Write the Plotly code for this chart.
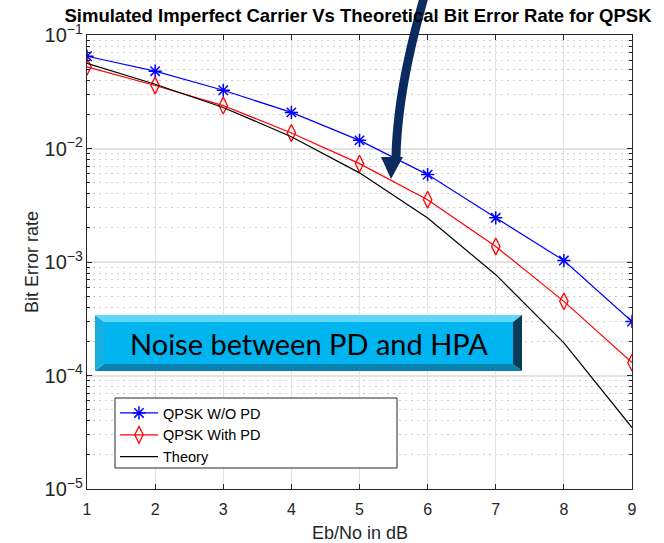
import plotly.graph_objects as go

# Eb/No sweep (dB) and measured / theoretical bit error rates
ebno_db = [1, 2, 3, 4, 5, 6, 7, 8, 9]
ber_without_pd = [0.0650, 0.0480, 0.0326, 0.0208, 0.0118, 0.00589, 0.00245, 0.00103, 0.000299]
ber_with_pd = [0.0525, 0.0359, 0.0239, 0.0137, 0.00736, 0.00354, 0.00137, 0.000450, 0.000130]
ber_theory = [0.0563, 0.0368, 0.0230, 0.0127, 0.00610, 0.00244, 0.000773, 0.000194, 0.0000348]

series_names = ["QPSK W/O PD", "QPSK With PD", "Theory"]
title_text = "Simulated Imperfect Carrier Vs Theoretical Bit Error Rate for QPSK"
x_title = "Eb/No in dB"
y_title = "Bit Error rate"
box_text = "Noise between PD and HPA"

W, H = 664, 543
L, R, T, B = 87, 632, 35, 489


def px(x):
    return (x - L) / (R - L)


def py(y):
    return (B - y) / (B - T)


def poly(points):
    s = "M " + " L ".join(f"{px(x):.5f},{py(y):.5f}" for x, y in points)
    return s + " Z"


fig = go.Figure()
fig.add_trace(go.Scatter(
    x=ebno_db, y=ber_without_pd, name=series_names[0], mode="lines+markers",
    line=dict(color="#0000ff", width=1.2),
    marker=dict(symbol="asterisk-open", size=11, color="#0000ff",
                line=dict(color="#0000ff", width=1.5)),
))
fig.add_trace(go.Scatter(
    x=ebno_db, y=ber_with_pd, name=series_names[1], mode="lines+markers",
    line=dict(color="#ff0000", width=1.2),
    marker=dict(symbol="diamond-tall-open", size=12, color="#ff0000",
                line=dict(color="#ff0000", width=1.3)),
))
fig.add_trace(go.Scatter(
    x=ebno_db, y=ber_theory, name=series_names[2], mode="lines",
    line=dict(color="#000000", width=1.2),
))

shapes = []

# legend frame
shapes.append(dict(type="rect", xref="paper", yref="paper",
                   x0=px(115), x1=px(397), y0=py(398), y1=py(468),
                   fillcolor="white", line=dict(color="#262626", width=1),
                   layer="above"))

# bevelled callout box
bx0, bx1, by0, by1 = 95, 522, 315, 371
bw, bh = 9, 7
shapes += [
    dict(type="path", xref="paper", yref="paper", layer="above", line=dict(width=0),
         fillcolor="#5fd8f8",
         path=poly([(bx0, by0), (bx1, by0), (bx1 - bw, by0 + bh), (bx0 + bw, by0 + bh)])),
    dict(type="path", xref="paper", yref="paper", layer="above", line=dict(width=0),
         fillcolor="#17aee0",
         path=poly([(bx0, by0), (bx0 + bw, by0 + bh), (bx0 + bw, by1 - bh), (bx0, by1)])),
    dict(type="path", xref="paper", yref="paper", layer="above", line=dict(width=0),
         fillcolor="#0a82b0",
         path=poly([(bx0, by1), (bx0 + bw, by1 - bh), (bx1 - bw, by1 - bh), (bx1, by1)])),
    dict(type="path", xref="paper", yref="paper", layer="above", line=dict(width=0),
         fillcolor="#083c58",
         path=poly([(bx1, by0), (bx1 - bw, by0 + bh), (bx1 - bw, by1 - bh), (bx1, by1)])),
    dict(type="rect", xref="paper", yref="paper", layer="above", line=dict(width=0),
         fillcolor="#00b4f0",
         x0=px(bx0 + bw), x1=px(bx1 - bw), y0=py(by1 - bh), y1=py(by0 + bh)),
]

# curved pointer arrow
c = [(425, -6), (412, 40), (398, 95), (396, 157)]
hw = 4.5
left = [(x - hw, y) for x, y in c]
right = [(x + hw, y) for x, y in c]


def pt(p):
    return f"{px(p[0]):.5f},{py(p[1]):.5f}"


arrow_path = (
    f"M {pt(left[0])} C {pt(left[1])} {pt(left[2])} {pt(left[3])} "
    f"L {pt((381, 157))} L {pt((391, 179))} L {pt((403, 157))} "
    f"L {pt(right[3])} C {pt(right[2])} {pt(right[1])} {pt(right[0])} Z"
)
shapes.append(dict(type="path", xref="paper", yref="paper", layer="above",
                   path=arrow_path, fillcolor="#0b2a5e", line=dict(width=0)))

label_font = dict(family="Liberation Sans, Arial", size=18, color="#262626")

annotations = [
    dict(text=box_text, xref="paper", yref="paper",
         x=px((bx0 + bx1) / 2), y=py((by0 + by1) / 2), xanchor="center", yanchor="middle",
         showarrow=False, font=dict(family="Lato", size=29, color="#000000")),
    dict(text=x_title, xref="paper", yref="paper", x=0.5, y=py(533),
         xanchor="center", yanchor="middle", showarrow=False, font=label_font),
    dict(text=y_title, xref="paper", yref="paper", x=px(32), y=py(262),
         xanchor="center", yanchor="middle", textangle=-90, showarrow=False,
         font=label_font),
]

axis_font = dict(family="Liberation Sans, Arial", size=16, color="#262626")

fig.update_layout(
    width=W, height=H,
    margin=dict(l=L, r=W - R, t=T, b=H - B, pad=0),
    paper_bgcolor="white", plot_bgcolor="white",
    title=dict(text=f"<b>{title_text}</b>", x=px(358), xref="paper", xanchor="center",
               y=1 - 16 / H, yref="container", yanchor="middle",
               font=dict(family="Liberation Sans Narrow, Arial Narrow, Liberation Sans",
                         size=18.5, color="#000000")),
    xaxis=dict(range=[1, 9], dtick=1, tick0=1, ticks="inside", ticklen=5,
               tickcolor="#262626", mirror="ticks", showline=True, linecolor="#262626",
               linewidth=1, showgrid=True, gridcolor="#e2e2e2", gridwidth=1, zeroline=False,
               tickfont=axis_font, ticklabelstandoff=6, automargin=False),
    yaxis=dict(type="log", range=[-5, -1], dtick=1, exponentformat="power",
               ticks="inside", ticklen=5, tickcolor="#262626", mirror="ticks",
               showline=True, linecolor="#262626", linewidth=1,
               showgrid=True, gridcolor="#e2e2e2", gridwidth=1.5, zeroline=False,
               tickfont=axis_font, ticklabelstandoff=0, automargin=False,
               minor=dict(dtick="D1", ticks="inside", ticklen=3, tickcolor="#262626",
                          showgrid=True, gridcolor="#cdcdcd", griddash="2px,4px", gridwidth=1)),
    legend=dict(x=px(115), y=py(397), xanchor="left", yanchor="top",
                bgcolor="rgba(0,0,0,0)", borderwidth=0, itemwidth=38,
                tracegroupgap=0,
                font=dict(family="Liberation Sans, Arial", size=14.5, color="#000000")),
    shapes=shapes,
    annotations=annotations,
    showlegend=True,
)

fig.write_html("out.html")
